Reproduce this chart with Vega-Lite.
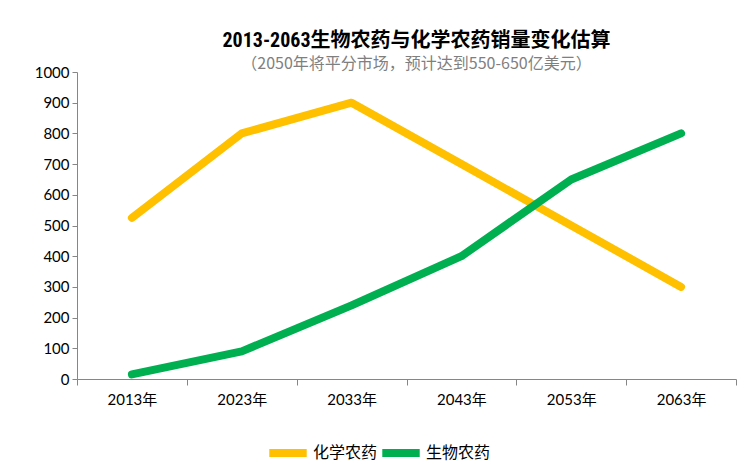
{
  "$schema": "https://vega.github.io/schema/vega-lite/v6.json",
  "autosize": {"type": "none"},
  "padding": {"left": 77, "top": 72, "right": 5, "bottom": 83},
  "width": 659,
  "height": 307,
  "background": "white",
  "title": {
    "text": "2013-2063生物农药与化学农药销量变化估算",
    "subtitle": "（2050年将平分市场，预计达到550-650亿美元）",
    "anchor": "middle",
    "offset": -7,
    "font": "Roboto Condensed, Liberation Sans Narrow, Noto Sans CJK SC",
    "fontSize": 20,
    "fontWeight": "bold",
    "color": "#000000",
    "subtitleFont": "Noto Sans CJK SC",
    "subtitleFontSize": 16,
    "subtitleColor": "#7f7f7f",
    "subtitlePadding": 5,
    "dx": 10
  },
  "data": {
    "values": [
      {"year": "2013年", "series": "化学农药", "value": 525},
      {"year": "2023年", "series": "化学农药", "value": 800},
      {"year": "2033年", "series": "化学农药", "value": 900},
      {"year": "2043年", "series": "化学农药", "value": 700},
      {"year": "2053年", "series": "化学农药", "value": 500},
      {"year": "2063年", "series": "化学农药", "value": 300},
      {"year": "2013年", "series": "生物农药", "value": 15},
      {"year": "2023年", "series": "生物农药", "value": 90},
      {"year": "2033年", "series": "生物农药", "value": 240},
      {"year": "2043年", "series": "生物农药", "value": 400},
      {"year": "2053年", "series": "生物农药", "value": 650},
      {"year": "2063年", "series": "生物农药", "value": 800}
    ]
  },
  "mark": {"type": "line", "strokeWidth": 8, "strokeCap": "round", "strokeJoin": "round"},
  "encoding": {
    "x": {
      "field": "year",
      "type": "ordinal",
      "bandPosition": 0.5,
      "scale": {"type": "band", "paddingInner": 0, "paddingOuter": 0},
      "axis": {
        "title": null,
        "labelAngle": 0,
        "tickBand": "extent",
        "domainColor": "#868686",
        "tickColor": "#868686",
        "tickSize": 6,
        "labelFont": "Lato, Noto Sans CJK SC",
        "labelFontSize": 15,
        "labelColor": "#000000",
        "labelPadding": 7
      }
    },
    "y": {
      "field": "value",
      "type": "quantitative",
      "scale": {"domain": [0, 1000]},
      "axis": {
        "title": null,
        "values": [0, 100, 200, 300, 400, 500, 600, 700, 800, 900, 1000],
        "format": "d",
        "grid": false,
        "domainColor": "#868686",
        "tickColor": "#868686",
        "tickSize": 5,
        "labelFont": "Lato, Noto Sans CJK SC",
        "labelFontSize": 15,
        "labelColor": "#000000",
        "labelPadding": 3
      }
    },
    "color": {
      "field": "series",
      "type": "nominal",
      "scale": {"domain": ["化学农药", "生物农药"], "range": ["#FFC000", "#00B050"]},
      "legend": {
        "title": null,
        "orient": "none",
        "direction": "horizontal",
        "legendX": 188,
        "legendY": 358,
        "symbolType": "stroke",
        "symbolStrokeWidth": 8,
        "symbolSize": 1400,
        "labelFont": "Lato, Noto Sans CJK SC",
        "labelFontSize": 16,
        "labelColor": "#000000",
        "columnPadding": -14,
        "labelOffset": 2
      }
    }
  },
  "config": {"view": {"stroke": null}}
}
